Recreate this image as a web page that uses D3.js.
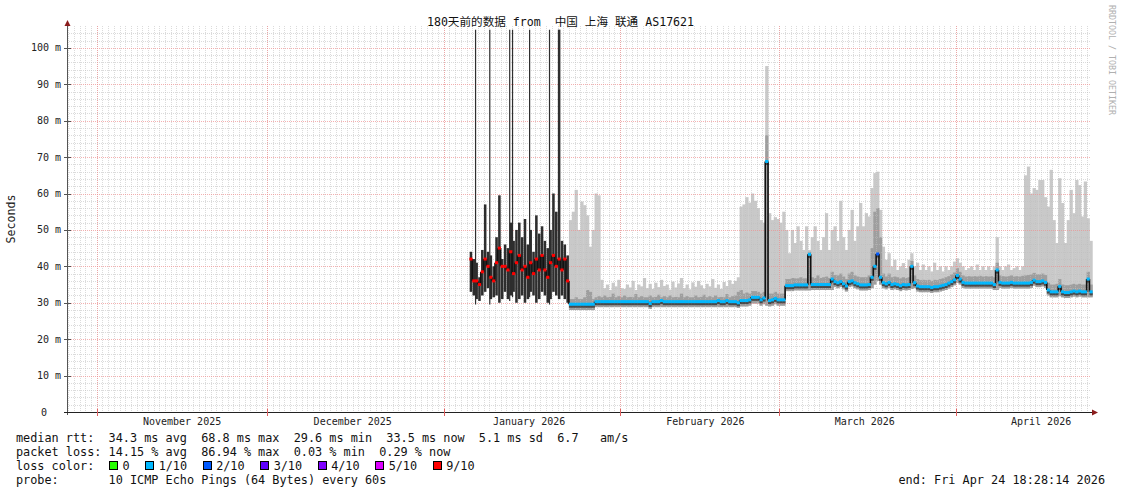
<!DOCTYPE html>
<html>
<head>
<meta charset="utf-8">
<script src="https://cdn.jsdelivr.net/npm/d3@7"></script>
<style>
  body { margin: 0; background: #fff; }
  text { font-family: "DejaVu Sans Mono", "Noto Sans CJK SC", monospace; }
</style>
</head>
<body>
<div id="chart"></div>
<script>
// samples every 12 hours from 2026-01-05 12:00, values in ms
const sampleStart = Date.UTC(2026, 0, 5, 12, 0, 0);

const med = [
  42,36,36,35,38.5,42,40,37,36,41,45,40,40,39,44,38,41,43,39,40,37,41,38,42,39,43,39,37,41,43,40,42,39,42,36,
  29.6,29.6,29.6,29.6,29.6,29.6,29.6,29.6,29.6,
  30.3,30.3,30.3,30.3,30.3,30.3,30.3,30.3,30.3,30.3,
  30.3,30.3,30.3,30.3,30.3,30.3,30.3,30.3,30.3,29.8,
  30.3,30.3,30.3,30.6,30.3,30.3,30.3,30.3,30.3,30.3,
  30.3,30.3,30.3,30.3,30.3,30.3,30.3,30.3,30.3,30.3,
  30.3,30.3,30.3,30.6,30.3,30.3,30.6,30.3,30.3,30.3,
  30.0,
  30.6,30.6,30.6,30.8,31.5,31.5,31.5,30.8,31.3,68.8,30.6,30.8,31.2,30.8,30.8,30.8,
  34.7,34.7,34.7,34.9,34.9,34.9,34.9,34.9,
  43.3,
  35,35,35,35,35,35,35,
  36.5,
  35.8,35.5,35.8,35.2,34.6,35.8,36,35.5,35.2,34.9,34.9,34.9,35,
  37,40,43.4,37,35.5,35.2,
  35.6,35,35.2,35,34.7,35,34.9,35,
  40,
  35.5,34.6,34.4,34.4,34.4,34.4,34.2,34.4,34.4,34.6,34.8,35,35.4,35.8,36.3,
  37.5,36.5,
  35.6,35.4,35.4,35.4,35.4,35.4,35.4,35.4,35.4,35.4,35.4,35,
  39,
  35.6,35.4,35.4,35.4,35.6,35.4,35.4,35.4,35.4,35.4,35.4,35.6,36.2,35.8,35.8,36,35.6,
  33.5,33,33,33,34.5,33,32.8,32.8,33,33.2,33,33.2,33,33,36.5,33
];

const hi = [
  44,42,41,37,44.5,57,44,43,40,48,59.5,42,46,45,52,47,50,52,48,53,46,50,44,54,49,51,47,45,50,60,55,105,47,46,43,
  52.7,55,61,50,57.8,56.8,54,45.4,50,60,59.5,
  36.3,34,35,33.5,35.5,34.5,36.3,34,33.8,35,
  34.2,36,33.5,35,34.5,36.8,34,35.2,33.8,35.5,
  34.3,36.3,34.6,35,33.6,35.8,34.2,35.3,36.8,34,
  35,33.7,35.6,34.4,36,34.8,33.9,35.2,34.5,36.5,
  34.1,35,33.8,35.7,34.6,36.2,35.2,36,37,
  56.4,57,59,57.5,60,58,56,52.7,52,95,54.6,52.7,53.5,53,52,55,
  50,43.6,50,46.4,51,47,44.5,51,44.5,48,51,47,44.5,48,54.6,44.5,50,51,47,58,
  48,44.5,50,55.5,47,51,57.4,51,54.6,53.7,61.5,65.6,66,55.5,45.4,41.8,
  43.6,40,41.8,39,40,40.9,39.5,41.8,43.6,40,
  41,39,40.5,39,40,38.6,41,39,40,38.6,
  40,39,40,41.3,42.2,41,40,39,39.5,40,
  39,40.5,39,40,39,40,39,40,48,40,
  39,40,40.5,39,39.5,40,39,40,
  65,67.4,60,61.5,61,63.7,63.7,59,56.4,66.5,52.7,46.4,64.2,57.4,46.4,52.7,61,54.6,63.7,62.3,53.7,63.3,53.2,47
];

const lo = [
  33,32,31,30.5,32,33,34,31,31.5,32,30,31,33,31,32,33,30,31,32,30,31,33,32,30,31,33,32,30,31,33,32,31,32,31,30,
  28,28,28,28,28,28,28,28,28,
  28.8,28.8,28.8,28.8,28.8,28.8,28.8,28.8,28.8,28.8,
  28.8,28.8,28.8,28.8,28.8,28.8,28.8,28.8,28.8,28.3,
  28.8,28.8,28.8,28.8,28.8,28.8,28.8,28.8,28.8,28.8,
  28.8,28.8,28.8,28.8,28.8,28.8,28.8,28.8,28.8,28.8,
  28.8,28.8,28.8,28.8,28.8,28.8,28.8,28.8,28.8,28.8,
  28.6,
  29,29,29,29.2,29.8,29.8,29.8,29.2,29.6,29.2,29,29.2,29.6,29.2,29.2,29.2,
  33.2,33.2,33.2,33.4,33.4,33.4,33.4,33.4,
  33.4,
  33.5,33.5,33.5,33.5,33.5,33.5,33.5,
  33.5,
  34.3,34,34.3,33.7,33.1,34.3,34.5,34,33.7,33.4,33.4,33.4,33.5,
  34,35,36,35,34,33.7,
  34.1,33.5,33.7,33.5,33.2,33.5,33.4,33.5,
  33.8,
  34,33.1,32.9,32.9,32.9,32.9,32.7,32.9,32.9,33.1,33.3,33.5,33.9,34.3,34.8,
  35.5,35,
  34.1,33.9,33.9,33.9,33.9,33.9,33.9,33.9,33.9,33.9,33.9,33.5,
  33.5,
  34.1,33.9,33.9,33.9,34.1,33.9,33.9,33.9,33.9,33.9,33.9,34.1,34.7,34.3,34.3,34.5,34.1,
  32,31.5,31.5,31.5,31.8,31.5,31.3,31.3,31.5,31.7,31.5,31.7,31.5,31.5,31.5,31.5
];

// upper edge of the darker smoke band
const q3 = [
  0,0,0,0,0,0,0,0,0,0,0,0,0,0,0,0,0,0,0,0,0,0,0,0,0,0,0,0,0,0,0,0,0,0,0,
  31,31,31.5,31,31,31.5,33.5,33,31,
  31.5,31.8,31.5,32,31.5,31.6,32.5,31.5,31.8,31.5,
  32,31.5,31.6,31.5,32.4,31.5,31.8,31.5,31.5,32,
  31.5,31.6,32.2,31.5,31.8,31.5,32,31.5,31.6,31.5,
  32.5,31.5,31.8,31.5,31.5,32,31.5,31.6,32.2,31.5,
  31.8,31.5,32,31.5,31.6,31.5,32.4,31.5,31.8,32,
  33,
  33.5,32.5,32.8,32.5,33.2,33.2,33,32.5,33,76,32.5,32.5,33,32.5,32.5,32.5,
  36.5,36.5,36.8,36.7,36.7,37,36.7,36.7,
  44,
  37,36.8,37.5,36.8,37,37.2,36.8,
  38.5,
  37.6,37.5,38,37.2,36.5,38,38.5,37.5,37.2,37,37,37,37.5,
  45,55,56,48,38,37.2,
  38,37,37.2,37,36.7,37,36.8,37,
  41.5,
  37.5,36.5,36.2,36.3,36.2,36.3,36,36.3,36.2,36.5,36.7,37,37.3,37.8,38.3,
  39.5,38.5,
  37.5,37.2,37.3,37.2,37.3,37.2,37.4,37.2,37.3,37.2,37.3,37,
  41,
  37.5,37.3,37.2,37.3,37.5,37.2,37.3,37.2,37.4,37.5,37.6,37.8,38.2,37.8,37.8,38,37.6,
  35.5,35,35,35.2,36.5,35,34.8,34.8,35,35.2,35,35.2,35,35,38.5,35
];

// loss class of each sample, in tenths
const loss = [
  9,9,9,9,9,9,9,9,9,9, 9,9,9,9,9,9,9,9,9,9, 9,9,9,9,9,9,9,9,9,9, 9,9,9,9,9,
  1,1,1,1,1,1,1,1,1,1, 1,1,1,1,1,1,1,1,1,1, 1,1,1,1,1,1,1,1,1,1, 1,1,1,1,1,1,1,1,1,1,
  1,1,1,1,1,1,1,1,1,1, 1,1,1,1,1,1,1,1,1,1, 1,1,1,1,1,1,1,1,1,1, 1,1,1,1,1,1,1,1,1,1,
  1,1,1,1,1,1,1,1,1,1, 1,1,1,1,1,1,1,1,1,1, 1,1,1,1,1,1,1,1,1,1, 1,1,1,1,1,1,1,1,1,1,
  1,1,1,1,1,1,1,1,1,1, 1,1,1,1,1,1,1,1,1,1, 1,1,1,1,1,1,1,1,1,1, 1,1,1,1,1,1,1,1,1,1,
  1,1,1,1,1,1,1,1,1,1, 1,1,1,1,1,1,1,1,1,1, 1,1,1,1
];
loss[143] = 2;

// thin outlier pings inside the high-loss period
const spikeIdx = [2, 7, 14, 15, 21, 28];
const spikeTop = [105, 105, 105, 105, 105, 105];

const lossLabels = ["0", "1/10", "2/10", "3/10", "4/10", "5/10", "9/10"];
const lossTenths = [0, 1, 2, 3, 4, 5, 9];
const lossColors = ["#26ff00", "#00b8ff", "#0059ff", "#5e00ff", "#7e00ff", "#dd00ff", "#ff0000"];

const yTicks = [0, 10, 20, 30, 40, 50, 60, 70, 80, 90, 100];
const rttStats = ["34.3 ms avg", "68.8 ms max", "29.6 ms min", "33.5 ms now", "5.1 ms sd", "6.7   am/s"];
const lossStats = ["14.15 % avg", "86.94 % max", "0.03 % min", "0.29 % now"];
const probeText = "10 ICMP Echo Pings (64 Bytes) every 60s";
const endText = "end: Fri Apr 24 18:28:14 2026";
const titleText = "180天前的数据 from  中国 上海 联通 AS17621";

const N = med.length;
[hi, lo, q3, loss].forEach(a => { if (a.length !== N) throw new Error("length " + a.length + " vs " + N); });

const keep = s => s.replace(/ /g, "\u00a0");   // keep runs of spaces

const W = 1121, H = 494;
const start = Date.UTC(2025, 9, 26, 18, 28, 14),
      end = Date.UTC(2026, 3, 24, 18, 28, 14);

const svg = d3.select("#chart").append("svg")
  .attr("width", W).attr("height", H)
  .style("display", "block");

svg.append("rect").attr("width", W).attr("height", H).attr("fill", "#fff");

const x = d3.scaleUtc().domain([start, end]).range([67, 1091]);
const y = d3.scaleLinear().domain([0, 106]).range([412, 26]);

const tAt = i => d3.utcHour.offset(new Date(sampleStart), 12 * i);
const x0 = i => x(tAt(i)), x1 = i => x(tAt(i + 1));
const colorOf = k => lossColors[lossTenths.indexOf(k)];

const idx = d3.range(N);
const grey = idx.filter(i => loss[i] < 9);
const dark = idx.filter(i => loss[i] >= 9);

// smoke
const smoke = svg.append("g");
smoke.selectAll(".light").data(grey).join("rect")
  .attr("x", i => x0(i)).attr("width", i => x1(i) - x0(i) + 0.4)
  .attr("y", i => y(hi[i])).attr("height", i => y(lo[i]) - y(hi[i]))
  .attr("fill", "#c9c9c9");
smoke.selectAll(".mid").data(grey).join("rect")
  .attr("x", i => x0(i)).attr("width", i => x1(i) - x0(i) + 0.4)
  .attr("y", i => y(q3[i])).attr("height", i => y(lo[i]) - y(q3[i]))
  .attr("fill", "#9e9e9e");

// grid over smoke
const grid = svg.append("g").attr("shape-rendering", "crispEdges");
const minorY = d3.range(2, 106, 2).filter(v => v % 10 !== 0);
grid.selectAll(".gy").data(minorY).join("line")
  .attr("x1", 67).attr("x2", 1091)
  .attr("y1", d => Math.round(y(d)) + 0.5).attr("y2", d => Math.round(y(d)) + 0.5)
  .attr("stroke", "#bdbdbd").attr("stroke-opacity", 0.55).attr("stroke-dasharray", "1,1");
grid.selectAll(".gx").data(d3.utcDay.range(start, end)).join("line")
  .attr("x1", d => Math.round(x(d)) + 0.5).attr("x2", d => Math.round(x(d)) + 0.5)
  .attr("y1", 26).attr("y2", 412)
  .attr("stroke", "#bdbdbd").attr("stroke-opacity", 0.55).attr("stroke-dasharray", "1,1");
grid.selectAll(".My").data(yTicks.slice(1)).join("line")
  .attr("x1", 67).attr("x2", 1091)
  .attr("y1", d => Math.round(y(d)) + 0.5).attr("y2", d => Math.round(y(d)) + 0.5)
  .attr("stroke", "#f09090").attr("stroke-opacity", 0.7).attr("stroke-dasharray", "1,1");
grid.selectAll(".Mx").data(d3.utcMonth.range(start, end)).join("line")
  .attr("x1", d => Math.round(x(d)) + 0.5).attr("x2", d => Math.round(x(d)) + 0.5)
  .attr("y1", 26).attr("y2", 412)
  .attr("stroke", "#f09090").attr("stroke-opacity", 0.7).attr("stroke-dasharray", "1,1");

// high-loss period: dark smoke bars and outlier lines
const blk = svg.append("g");
blk.selectAll("rect").data(dark).join("rect")
  .attr("x", i => x0(i) + 0.3).attr("width", i => x1(i) - x0(i) - 0.3)
  .attr("y", i => y(hi[i])).attr("height", i => y(lo[i]) - y(hi[i]))
  .attr("fill", "#2e2e2e");
blk.selectAll("line").data(spikeIdx).join("line")
  .attr("x1", i => x0(i) + 0.5).attr("x2", i => x0(i) + 0.5)
  .attr("y1", (i, k) => y(spikeTop[k])).attr("y2", i => y(lo[i] - 1.5))
  .attr("stroke", "#2e2e2e").attr("stroke-width", 1.2);

// median
const mg = svg.append("g");
mg.selectAll(".under").data(grey).join("rect")
  .attr("x", i => x0(i)).attr("width", i => x1(i) - x0(i) + 0.4)
  .attr("y", i => y(med[i]) + 1).attr("height", 2.5)
  .attr("fill", "#4a4a4a");
mg.selectAll(".conn").data(idx.slice(0, N - 1).filter(i => med[i] !== med[i + 1])).join("line")
  .attr("x1", i => x1(i)).attr("x2", i => x1(i))
  .attr("y1", i => y(med[i])).attr("y2", i => y(med[i + 1]))
  .attr("stroke", "#111").attr("stroke-width", 1.6);
mg.selectAll(".seg").data(idx).join("rect")
  .attr("x", i => x0(i)).attr("width", i => x1(i) - x0(i) + 0.3)
  .attr("y", i => y(med[i]) - 1.5).attr("height", 3)
  .attr("fill", i => colorOf(loss[i]));

// axes
const ax = svg.append("g").attr("shape-rendering", "crispEdges");
ax.append("line").attr("x1", 67.5).attr("x2", 67.5).attr("y1", 24).attr("y2", 415)
  .attr("stroke", "#555");
ax.append("line").attr("x1", 64).attr("x2", 1093).attr("y1", 412.5).attr("y2", 412.5)
  .attr("stroke", "#222");
ax.selectAll(".yt").data(yTicks.slice(1)).join("line")
  .attr("x1", 64).attr("x2", 71)
  .attr("y1", d => Math.round(y(d)) + 0.5).attr("y2", d => Math.round(y(d)) + 0.5)
  .attr("stroke", "#555");
ax.selectAll(".xt").data(d3.utcMonth.range(start, end)).join("line")
  .attr("x1", d => Math.round(x(d)) + 0.5).attr("x2", d => Math.round(x(d)) + 0.5)
  .attr("y1", 409).attr("y2", 416)
  .attr("stroke", "#e06060");
svg.append("path").attr("d", "M64.5,26L70.5,26L67.5,20Z").attr("fill", "#8b1c1c");
svg.append("path").attr("d", "M1092,409.5L1092,415.5L1098,412.5Z").attr("fill", "#8b1c1c");

svg.append("g").selectAll("text").data(yTicks).join("text")
  .attr("x", d => d === 0 ? 47 : 61).attr("y", d => y(d) + 3.5)
  .attr("text-anchor", "end").attr("font-size", "10px").attr("fill", "#222")
  .text(d => d === 0 ? "0" : keep(d + " m"));

const months = d3.utcMonth.range(start, end).map(m => d3.utcDay.offset(m, 15)).filter(d => d > start && d < end);
svg.append("g").selectAll("text").data(months).join("text")
  .attr("x", d => x(d)).attr("y", 425)
  .attr("text-anchor", "middle").attr("font-size", "10px").attr("fill", "#222")
  .text(d => keep(d3.utcFormat("%B %Y")(d)));

svg.append("text").attr("transform", "translate(15,219) rotate(-90)")
  .attr("text-anchor", "middle").attr("font-size", "11.6px").attr("fill", "#222")
  .text("Seconds");

svg.append("text").attr("x", 560.5).attr("y", 26)
  .attr("text-anchor", "middle").attr("font-size", "11.6px").attr("fill", "#111")
  .text(keep(titleText));

svg.append("text").attr("transform", "translate(1109,5) rotate(90)")
  .attr("font-size", "8.3px").attr("fill", "#b0b0b0")
  .text(keep("RRDTOOL / TOBI OETIKER"));

// legend
const leg = svg.append("g").attr("font-size", "11.83px").attr("fill", "#111");
leg.append("text").attr("x", 16).attr("y", 441.5).text(keep("median rtt:  " + rttStats.join("  ")));
leg.append("text").attr("x", 16).attr("y", 455.5).text(keep("packet loss: " + lossStats.join("  ")));
leg.append("text").attr("x", 16).attr("y", 469.5).text(keep("loss color:"));
leg.append("text").attr("x", 16).attr("y", 483.5).text(keep("probe:       " + probeText));
leg.append("text").attr("x", 1105).attr("y", 483.5).attr("text-anchor", "end").text(keep(endText));

let bx = 109;
lossLabels.forEach((lab, k) => {
  leg.append("rect").attr("x", bx + 0.5).attr("y", 461.5).attr("width", 8).attr("height", 8)
    .attr("fill", lossColors[k]).attr("stroke", "#000").attr("shape-rendering", "crispEdges");
  const t = leg.append("text").attr("x", bx + 13.5).attr("y", 469.5).text(lab);
  bx = bx + 13.5 + t.node().getComputedTextLength() + 15.5;
});
</script>
</body>
</html>
